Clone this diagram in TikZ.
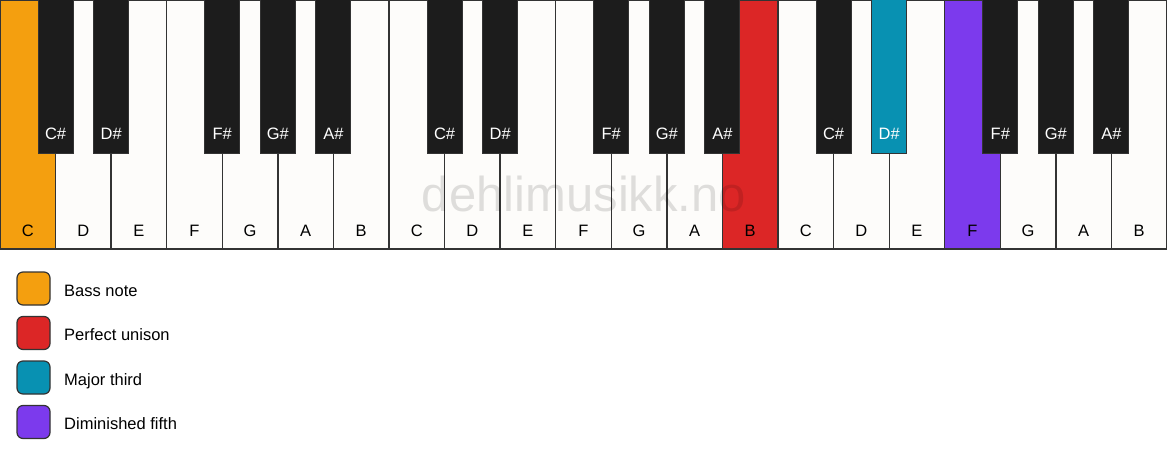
\documentclass[tikz,border=0pt]{standalone}
\usepackage{fontspec}
\setmainfont{Liberation Sans}
\definecolor{keywhite}{HTML}{FDFCFA}
\definecolor{keyblack}{HTML}{1C1C1C}
\definecolor{keyline}{HTML}{333333}
\definecolor{bassc}{HTML}{F49F0F}
\definecolor{unisonc}{HTML}{DC2626}
\definecolor{thirdc}{HTML}{0891B2}
\definecolor{fifthc}{HTML}{7C3AED}
\tikzset{
  whitekey/.style={draw=keyline, line width=1.3pt, fill=keywhite},
  blackkey/.style={draw=keyline, line width=1pt, fill=keyblack},
  wlabel/.style={font=\fontsize{16.5}{16.5}\selectfont, text=black, anchor=base},
  blabel/.style={font=\fontsize{16.5}{16.5}\selectfont, text=white, anchor=base},
  legendbox/.style={draw=keyline, line width=1.2pt, rounded corners=6pt, minimum width=33pt, minimum height=33pt, inner sep=0pt},
  legendtext/.style={font=\fontsize{16.5}{16.5}\selectfont, anchor=base west, inner sep=0pt},
}
\begin{document}
\begin{tikzpicture}[x=1pt,y=-1pt]
\useasboundingbox (0,0) rectangle (1167,461);
\fill[white] (0,0) rectangle (1167,461);
\def\w{55.5714}
% white keys
\foreach \i/\n/\c in {0/C/bassc,1/D/keywhite,2/E/keywhite,3/F/keywhite,4/G/keywhite,5/A/keywhite,6/B/keywhite,
  7/C/keywhite,8/D/keywhite,9/E/keywhite,10/F/keywhite,11/G/keywhite,12/A/keywhite,13/B/unisonc,
  14/C/keywhite,15/D/keywhite,16/E/keywhite,17/F/fifthc,18/G/keywhite,19/A/keywhite,20/B/keywhite}{
  \path[whitekey, fill=\c] ({\i*\w},0) rectangle ({(\i+1)*\w},249) node[coordinate] (wk\i) {};
  \node[wlabel] (wl\i) at ({(\i+0.5)*\w},236) {\n};
}
% black keys
\foreach \o in {0,1,2}{
  \foreach \k/\n in {1/C\#,2/D\#,4/F\#,5/G\#,6/A\#}{
    \pgfmathsetmacro{\bx}{(7*\o+\k)*\w}
    \pgfmathsetmacro{\isthird}{(\o==2 && \k==2) ? 1 : 0}
    \ifdim\isthird pt=1pt
      \path[blackkey, fill=thirdc] ({\bx-17.5},-1) rectangle ({\bx+17.5},153);
    \else
      \path[blackkey] ({\bx-17.5},-1) rectangle ({\bx+17.5},153);
    \fi
    \node[blabel] (bl\o\k) at (\bx,139) {\n};
  }
}
% watermark
\node[font=\fontsize{49}{49}\selectfont, text=black, text opacity=0.12, anchor=base, inner sep=0pt] (wm) at (584,211) {dehlimusikk.no};
% legend
\node[legendbox, fill=bassc] (lg1) at (33.5,288.5) {};
\node[legendbox, fill=unisonc] (lg2) at (33.5,333) {};
\node[legendbox, fill=thirdc] (lg3) at (33.5,377.5) {};
\node[legendbox, fill=fifthc] (lg4) at (33.5,422) {};
\node[legendtext] (lt1) at (64,296) {Bass note};
\node[legendtext] (lt2) at (64,340.5) {Perfect unison};
\node[legendtext] (lt3) at (64,385) {Major third};
\node[legendtext] (lt4) at (64,429.5) {Diminished fifth};
\end{tikzpicture}
\end{document}
